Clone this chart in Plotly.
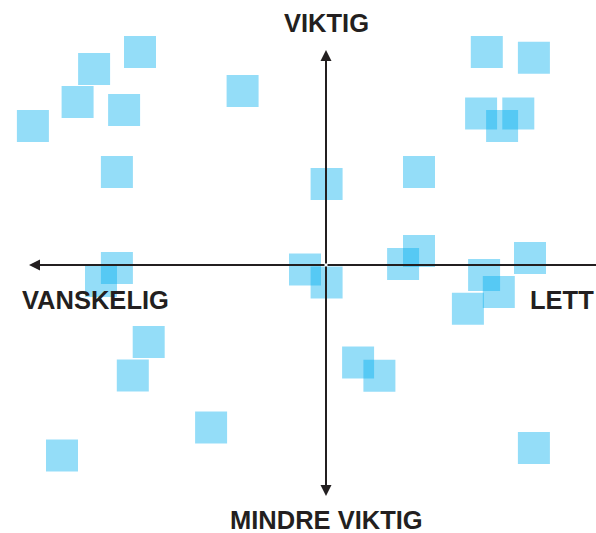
import plotly.graph_objects as go

# Ease (x: negative = VANSKELIG, positive = LETT) and importance (y: positive = VIKTIG)
ease = [-6.2, -7.73, -8.28, -6.73, -9.77, -2.78, -6.97, -6.97, -7.5,
        -5.91, -6.44, -3.83, -8.8, -0.7, 0.02, 0.02, 3.1, 5.36, 6.93,
        5.17, 6.41, 5.87, 3.1, 2.57, 5.27, 6.8, 5.76, 4.73, 1.07, 1.78, 6.93]
importance = [7.1, 6.53, 5.43, 5.17, 4.63, 5.8, 3.1, -0.1, -0.53,
              -2.57, -3.68, -5.42, -6.35, -0.15, -0.58, 2.7, 3.1, 7.1, 6.91,
              5.05, 5.05, 4.63, 0.47, 0.03, -0.33, 0.23, -0.9, -1.46, -3.25, -3.69, -6.1]

label_top = "VIKTIG"
label_bottom = "MINDRE VIKTIG"
label_left = "VANSKELIG"
label_right = "LETT"

W, H = 596, 533
S = 30.0  # px per unit
X0, Y0 = 326.0, 265.0  # pixel position of origin
xr = [-X0 / S, (W - X0) / S]
yr = [-(H - Y0) / S, Y0 / S]

ink = "#231f20"

fig = go.Figure()
fig.add_trace(go.Scatter(
    x=ease, y=importance, mode="markers",
    marker=dict(symbol="square", size=32, color="rgb(0,174,239)", opacity=0.42,
                line=dict(width=0)),
    hoverinfo="skip", showlegend=False,
))

ends = [(-9.9, 0), (xr[1] + 0.05, 0), (0, 7.17), (0, -7.7)]
for (ex, ey), head in zip(ends, [1, 0, 1, 1]):
    fig.add_annotation(x=ex, y=ey, ax=0, ay=0, xref="x", yref="y", axref="x", ayref="y",
                       showarrow=True, arrowhead=2 if head else 0, arrowsize=1.1,
                       arrowwidth=2, arrowcolor=ink, text="", standoff=0, startstandoff=0)

font = dict(family="Liberation Sans, Arial, sans-serif", size=25.5, color=ink, weight="bold")
fig.add_annotation(x=0, y=8.07, text=label_top, showarrow=False, font=font,
                   xanchor="center", yanchor="middle", borderpad=0)
fig.add_annotation(x=0.03, y=-8.5, text=label_bottom, showarrow=False, font=font,
                   xanchor="center", yanchor="middle", borderpad=0)
fig.add_annotation(x=-7.67, y=-1.17, text=label_left, showarrow=False, font=font,
                   xanchor="center", yanchor="middle", borderpad=0)
fig.add_annotation(x=8.96, y=-1.17, text=label_right, showarrow=False, font=font,
                   xanchor="right", yanchor="middle", borderpad=0)

fig.update_layout(
    width=W, height=H, margin=dict(l=0, r=0, t=0, b=0),
    paper_bgcolor="white", plot_bgcolor="white",
    xaxis=dict(range=xr, visible=False, fixedrange=True),
    yaxis=dict(range=yr, visible=False, fixedrange=True),
)
fig.write_html("out.html", config={"displayModeBar": False},
               post_script="document.body.style.margin='0';document.body.style.overflow='hidden';")
